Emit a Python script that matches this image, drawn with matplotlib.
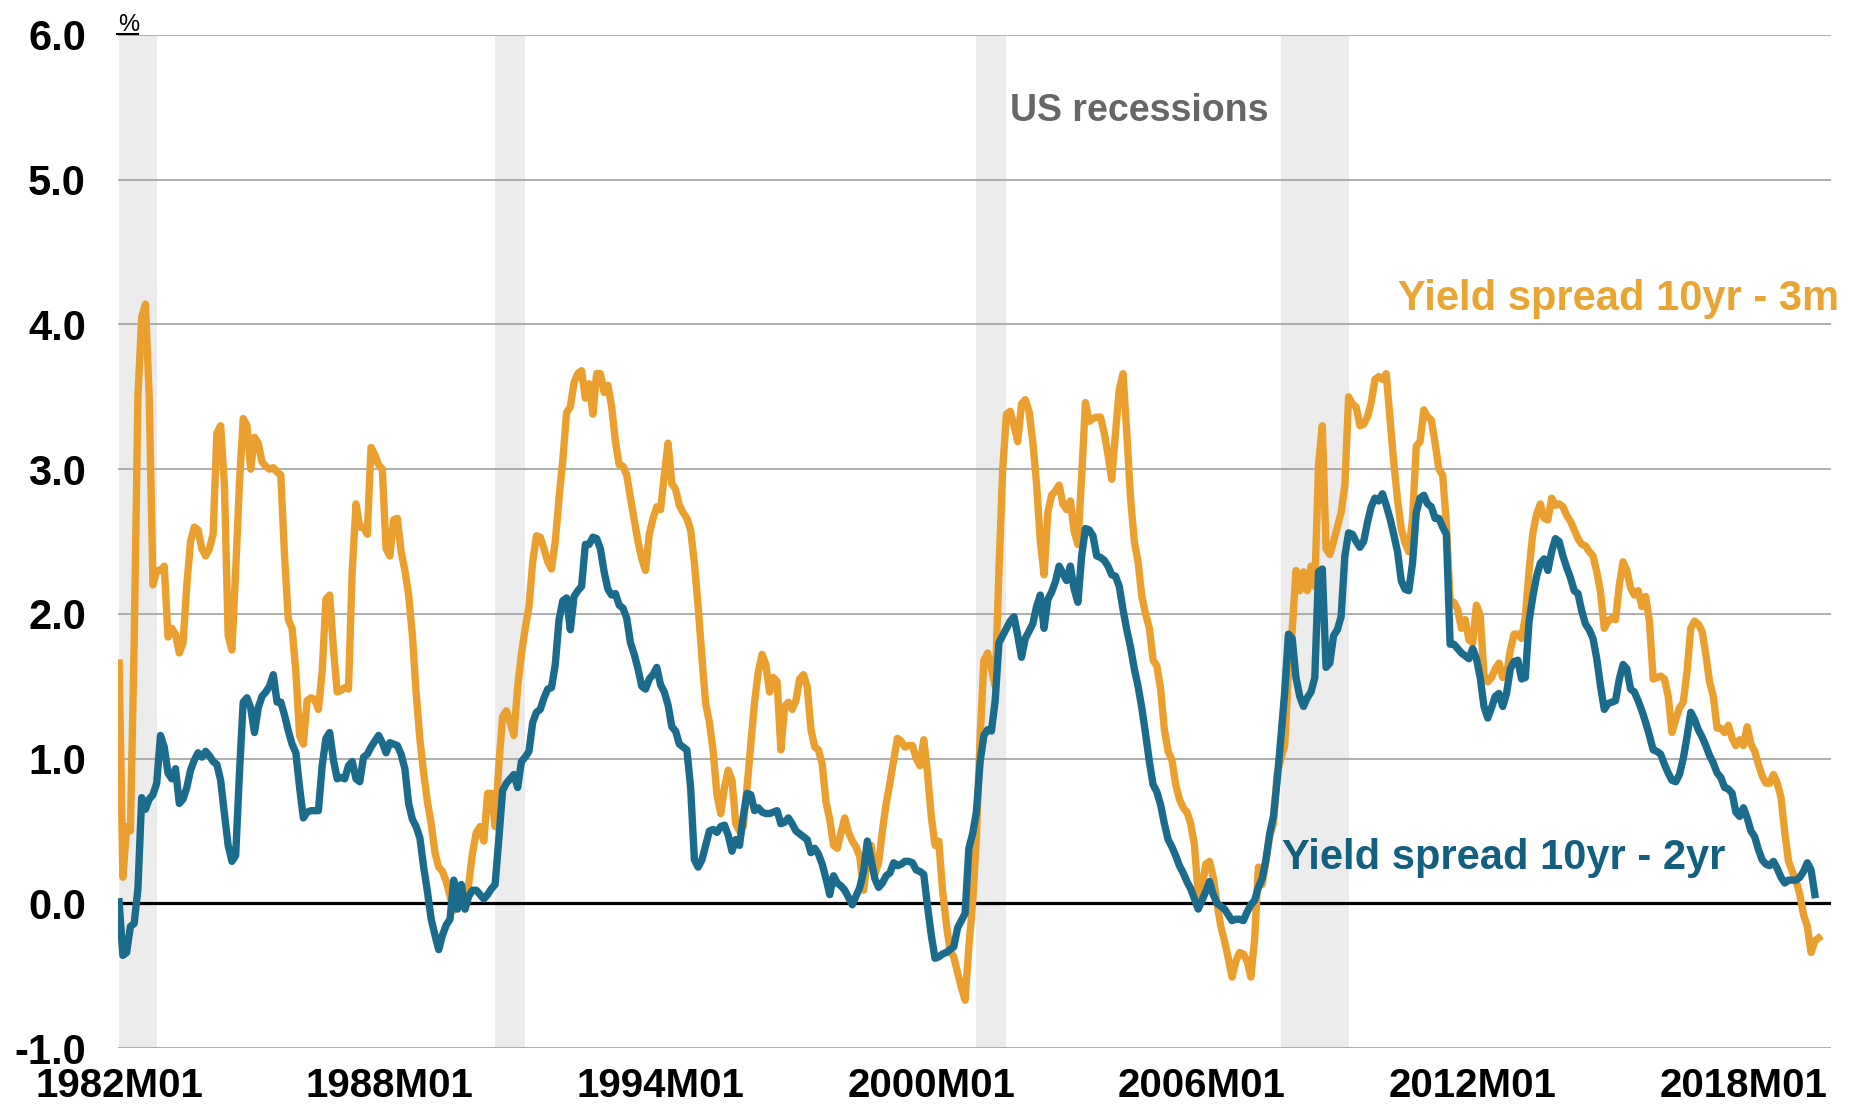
import numpy as np
import matplotlib
matplotlib.use('Agg')
import matplotlib.pyplot as plt
from matplotlib.lines import Line2D

# Monthly yield spreads (%), first month 1982M01
spread_10y3m = [
    1.66, 0.18, 0.53, 0.50, 1.80, 3.50, 4.05, 4.14, 3.50, 2.20, 2.30, 2.30,   # 1982
    2.33, 1.84, 1.90, 1.86, 1.73, 1.80, 2.20, 2.50, 2.60, 2.58, 2.45, 2.40,   # 1983
    2.45, 2.55, 3.25, 3.30, 2.90, 1.85, 1.75, 2.30, 2.90, 3.35, 3.30, 3.00,   # 1984
    3.22, 3.18, 3.05, 3.02, 3.00, 3.01, 2.98, 2.96, 2.40, 1.96, 1.90, 1.60,   # 1985
    1.16, 1.10, 1.40, 1.42, 1.41, 1.34, 1.60, 2.10, 2.13, 1.76, 1.46, 1.47,   # 1986
    1.49, 1.48, 2.30, 2.76, 2.60, 2.60, 2.55, 3.15, 3.10, 3.03, 3.00, 2.45,   # 1987
    2.40, 2.65, 2.66, 2.43, 2.30, 2.13, 1.85, 1.45, 1.13, 0.90, 0.70, 0.55,   # 1988
    0.35, 0.25, 0.22, 0.15, 0.05, -0.05, 0.00, 0.05, -0.04, 0.14, 0.35, 0.49, # 1989
    0.53, 0.43, 0.76, 0.76, 0.53, 0.96, 1.29, 1.33, 1.25, 1.16, 1.50, 1.72,   # 1990
    1.90, 2.05, 2.36, 2.54, 2.53, 2.45, 2.36, 2.31, 2.50, 2.80, 3.06, 3.39,   # 1991
    3.43, 3.60, 3.66, 3.68, 3.49, 3.59, 3.38, 3.66, 3.66, 3.53, 3.58, 3.43,   # 1992
    3.19, 3.03, 3.02, 2.96, 2.80, 2.65, 2.50, 2.38, 2.30, 2.55, 2.66, 2.74,   # 1993
    2.72, 2.96, 3.18, 2.90, 2.86, 2.75, 2.70, 2.66, 2.58, 2.35, 2.05, 1.70,   # 1994
    1.38, 1.25, 1.05, 0.75, 0.62, 0.80, 0.92, 0.85, 0.55, 0.50, 0.53, 0.80,   # 1995
    1.10, 1.39, 1.60, 1.72, 1.65, 1.46, 1.56, 1.53, 1.06, 1.36, 1.39, 1.34,   # 1996
    1.40, 1.55, 1.58, 1.50, 1.20, 1.08, 1.06, 0.96, 0.70, 0.58, 0.40, 0.38,   # 1997
    0.49, 0.59, 0.49, 0.43, 0.39, 0.32, 0.09, 0.30, 0.40, 0.20, 0.28, 0.50,   # 1998
    0.69, 0.83, 0.99, 1.14, 1.12, 1.08, 1.09, 1.09, 1.00, 0.95, 1.13, 0.90,   # 1999
    0.60, 0.40, 0.43, 0.09, -0.14, -0.33, -0.37, -0.48, -0.58, -0.67, -0.30, 0.00,  # 2000
    0.45, 1.15, 1.68, 1.73, 1.62, 1.50, 2.30, 3.00, 3.38, 3.40, 3.30, 3.19,   # 2001
    3.45, 3.48, 3.40, 3.19, 2.90, 2.50, 2.27, 2.70, 2.82, 2.85, 2.89, 2.76,   # 2002
    2.72, 2.78, 2.57, 2.48, 2.95, 3.46, 3.33, 3.35, 3.36, 3.36, 3.25, 3.10,   # 2003
    2.93, 3.25, 3.55, 3.66, 3.25, 2.80, 2.50, 2.36, 2.12, 2.00, 1.90, 1.68,   # 2004
    1.64, 1.48, 1.20, 1.05, 0.99, 0.82, 0.72, 0.66, 0.63, 0.55, 0.40, 0.06,   # 2005
    0.10, 0.27, 0.29, 0.18, 0.00, -0.16, -0.26, -0.38, -0.51, -0.40, -0.34, -0.35,  # 2006
    -0.40, -0.51, -0.25, 0.25, 0.13, 0.29, 0.46, 0.55, 0.90, 1.00, 1.09, 1.60,  # 2007
    1.89, 2.30, 2.16, 2.29, 2.16, 2.33, 2.19, 3.03, 3.30, 2.45, 2.41, 2.50,   # 2008
    2.60, 2.70, 2.89, 3.50, 3.45, 3.43, 3.30, 3.31, 3.36, 3.46, 3.62, 3.64,   # 2009
    3.62, 3.66, 3.35, 3.05, 2.79, 2.59, 2.49, 2.43, 2.66, 3.16, 3.19, 3.41,   # 2010
    3.36, 3.34, 3.18, 3.00, 2.96, 2.63, 2.09, 2.08, 2.03, 1.90, 1.96, 1.82,   # 2011
    1.80, 2.06, 1.99, 1.58, 1.53, 1.56, 1.62, 1.66, 1.56, 1.58, 1.75, 1.86,   # 2012
    1.86, 1.83, 1.98, 2.30, 2.56, 2.69, 2.76, 2.66, 2.65, 2.80, 2.75, 2.76,   # 2013
    2.74, 2.68, 2.64, 2.58, 2.52, 2.48, 2.47, 2.43, 2.40, 2.29, 2.15, 1.90,   # 2014
    1.95, 1.97, 1.96, 2.20, 2.36, 2.30, 2.18, 2.13, 2.16, 2.05, 2.12, 1.95,   # 2015
    1.55, 1.56, 1.57, 1.55, 1.43, 1.18, 1.27, 1.35, 1.39, 1.60, 1.90, 1.95,   # 2016
    1.93, 1.88, 1.72, 1.53, 1.43, 1.21, 1.21, 1.18, 1.23, 1.14, 1.09, 1.13,   # 2017
    1.09, 1.22, 1.10, 1.05, 0.96, 0.88, 0.83, 0.83, 0.89, 0.83, 0.73, 0.49,   # 2018
    0.29, 0.22, 0.16, 0.06, -0.08, -0.16, -0.34, -0.26, -0.24,               # 2019
]

spread_10y2y = [
    0.01, -0.36, -0.34, -0.16, -0.14, 0.10, 0.73, 0.65, 0.72, 0.75, 0.83, 1.16,  # 1982
    1.08, 0.90, 0.86, 0.93, 0.69, 0.72, 0.80, 0.92, 0.99, 1.04, 1.01, 1.05,   # 1983
    1.02, 0.98, 0.96, 0.85, 0.62, 0.40, 0.29, 0.33, 0.90, 1.39, 1.42, 1.35,   # 1984
    1.18, 1.35, 1.43, 1.46, 1.50, 1.58, 1.39, 1.39, 1.30, 1.19, 1.10, 1.04,   # 1985
    0.80, 0.59, 0.63, 0.64, 0.64, 0.64, 0.95, 1.14, 1.18, 0.99, 0.86, 0.87,   # 1986
    0.86, 0.95, 0.98, 0.86, 0.84, 1.01, 1.03, 1.08, 1.12, 1.16, 1.11, 1.04,   # 1987
    1.11, 1.10, 1.09, 1.03, 0.93, 0.69, 0.58, 0.53, 0.45, 0.25, 0.08, -0.11,  # 1988
    -0.22, -0.32, -0.22, -0.15, -0.11, 0.16, -0.04, 0.13, -0.04, 0.05, 0.09, 0.09,  # 1989
    0.06, 0.03, 0.06, 0.10, 0.13, 0.45, 0.78, 0.83, 0.86, 0.89, 0.80, 0.98,   # 1990
    1.01, 1.05, 1.25, 1.32, 1.34, 1.42, 1.48, 1.49, 1.65, 1.96, 2.09, 2.11,   # 1991
    1.89, 2.12, 2.16, 2.19, 2.48, 2.48, 2.53, 2.52, 2.45, 2.29, 2.17, 2.13,   # 1992
    2.14, 2.06, 2.04, 1.97, 1.80, 1.72, 1.62, 1.50, 1.48, 1.55, 1.58, 1.63,   # 1993
    1.51, 1.46, 1.37, 1.22, 1.19, 1.10, 1.08, 1.06, 0.80, 0.30, 0.25, 0.30,   # 1994
    0.40, 0.50, 0.51, 0.49, 0.53, 0.54, 0.47, 0.36, 0.44, 0.40, 0.60, 0.76,   # 1995
    0.75, 0.64, 0.66, 0.63, 0.62, 0.62, 0.63, 0.64, 0.55, 0.56, 0.59, 0.55,   # 1996
    0.50, 0.48, 0.46, 0.44, 0.35, 0.38, 0.34, 0.27, 0.17, 0.06, 0.19, 0.14,   # 1997
    0.12, 0.09, 0.04, -0.01, 0.05, 0.11, 0.22, 0.43, 0.30, 0.17, 0.11, 0.14,  # 1998
    0.19, 0.21, 0.28, 0.26, 0.27, 0.29, 0.29, 0.28, 0.23, 0.22, 0.20, -0.02,  # 1999
    -0.22, -0.38, -0.37, -0.35, -0.34, -0.32, -0.30, -0.17, -0.12, -0.07, 0.38, 0.48,  # 2000
    0.63, 0.98, 1.16, 1.20, 1.19, 1.40, 1.80, 1.85, 1.90, 1.95, 1.98, 1.85,   # 2001
    1.70, 1.83, 1.88, 1.93, 2.05, 2.13, 1.90, 2.10, 2.15, 2.22, 2.33, 2.28,   # 2002
    2.23, 2.33, 2.17, 2.08, 2.40, 2.59, 2.58, 2.54, 2.40, 2.39, 2.37, 2.33,   # 2003
    2.27, 2.26, 2.19, 2.03, 1.89, 1.77, 1.62, 1.50, 1.35, 1.17, 0.98, 0.82,   # 2004
    0.77, 0.68, 0.55, 0.44, 0.39, 0.33, 0.26, 0.21, 0.15, 0.10, 0.03, -0.04,  # 2005
    0.02, 0.08, 0.15, 0.06, 0.00, -0.02, -0.04, -0.08, -0.12, -0.11, -0.11, -0.12,  # 2006
    -0.06, -0.01, 0.02, 0.11, 0.17, 0.30, 0.48, 0.60, 0.85, 1.15, 1.46, 1.86,  # 2007
    1.83, 1.56, 1.43, 1.36, 1.42, 1.46, 1.56, 2.29, 2.31, 1.63, 1.66, 1.85,   # 2008
    1.89, 1.98, 2.40, 2.56, 2.55, 2.50, 2.46, 2.50, 2.63, 2.74, 2.80, 2.78,   # 2009
    2.83, 2.75, 2.66, 2.55, 2.43, 2.23, 2.17, 2.16, 2.35, 2.70, 2.80, 2.82,   # 2010
    2.76, 2.74, 2.66, 2.66, 2.60, 2.55, 1.79, 1.79, 1.76, 1.73, 1.71, 1.69,   # 2011
    1.76, 1.69, 1.56, 1.36, 1.28, 1.35, 1.43, 1.45, 1.36, 1.45, 1.62, 1.67,   # 2012
    1.68, 1.55, 1.56, 1.95, 2.12, 2.26, 2.35, 2.38, 2.30, 2.43, 2.52, 2.50,   # 2013
    2.40, 2.32, 2.25, 2.16, 2.14, 2.02, 1.93, 1.89, 1.83, 1.69, 1.50, 1.34,   # 2014
    1.38, 1.39, 1.40, 1.55, 1.65, 1.62, 1.48, 1.46, 1.40, 1.33, 1.25, 1.16,   # 2015
    1.06, 1.05, 1.03, 0.96, 0.90, 0.85, 0.84, 0.89, 1.00, 1.15, 1.32, 1.27,   # 2016
    1.20, 1.15, 1.09, 1.02, 0.97, 0.90, 0.87, 0.80, 0.79, 0.76, 0.63, 0.60,   # 2017
    0.66, 0.59, 0.50, 0.46, 0.37, 0.30, 0.27, 0.26, 0.29, 0.24, 0.18, 0.14,   # 2018
    0.16, 0.16, 0.16, 0.18, 0.22, 0.28, 0.23, 0.06,                           # 2019
]

# US recessions as shaded on the chart (start, end)
recessions = [('1982M01', '1982M11'), ('1990M05', '1991M01'),
              ('2001M01', '2001M09'), ('2007M10', '2009M04')]

x_tick_labels = ['1982M01', '1988M01', '1994M01', '2000M01',
                 '2006M01', '2012M01', '2018M01']
y_ticks = [-1.0, 0.0, 1.0, 2.0, 3.0, 4.0, 5.0, 6.0]


def month_index(label):
    # months since 1982M01
    return (int(label[:4]) - 1982) * 12 + int(label[5:]) - 1


orange = '#EA9F2E'
teal = '#1B6B8C'

fig = plt.figure(figsize=(18.64, 11.18), dpi=100)
ax = fig.add_axes([0.0633, 0.0626, 0.919, 0.9061])

for start, end in recessions:
    ax.axvspan(month_index(start), month_index(end), color='#ECECEC', lw=0, zorder=0)

ax.axhline(0, color='black', lw=2.3, zorder=2)
ax.plot(np.arange(len(spread_10y3m)), spread_10y3m, color=orange, lw=5.3,
        solid_joinstyle='round', zorder=3)
ax.plot(np.arange(len(spread_10y2y)), spread_10y2y, color=teal, lw=5.3,
        solid_joinstyle='round', zorder=4)

ax.set_xlim(-0.3, 455.3)
ax.set_ylim(-1, 6)
ax.set_yticks(y_ticks)
ax.set_yticklabels([f'{v:.1f}' for v in y_ticks],
                   fontdict={'family': 'Liberation Sans', 'weight': 'bold', 'size': 30})
ax.set_xticks([month_index(t) for t in x_tick_labels])
ax.set_xticklabels(x_tick_labels,
                   fontdict={'family': ['Liberation Sans Narrow', 'Liberation Sans'],
                             'weight': 'bold', 'size': 29})
ax.tick_params(axis='both', length=0)
ax.tick_params(axis='y', pad=23)
ax.tick_params(axis='x', pad=14)
ax.grid(axis='y', color='#a8a8a8', lw=1.3, zorder=1)
ax.set_axisbelow(True)
for s in ax.spines.values():
    s.set_visible(False)

# labels
ax.text(0.596, 0.915, 'US recessions', transform=ax.transAxes, ha='center',
        va='baseline', color='#666666', fontsize=27, fontweight='bold',
        family='Liberation Sans')
ax.text(1.005, 0.7285, 'Yield spread 10yr - 3m', transform=ax.transAxes,
        ha='right', va='baseline', color='#E9A533', fontsize=30,
        fontweight='bold', family='Liberation Sans')
ax.text(0.6795, 0.1767, 'Yield spread 10yr - 2yr', transform=ax.transAxes,
        ha='left', va='baseline', color='#135F80', fontsize=30,
        fontweight='bold', family='Liberation Sans')

# underlined % unit label
fig.text(118 / 1864, 1 - 31 / 1118, '%', ha='left', va='baseline',
         fontsize=17, family='Liberation Sans')
fig.add_artist(Line2D([117 / 1864, 138 / 1864], [1 - 34 / 1118, 1 - 34 / 1118],
                      color='black', lw=1.5))

fig.savefig('out.png', dpi=100)
